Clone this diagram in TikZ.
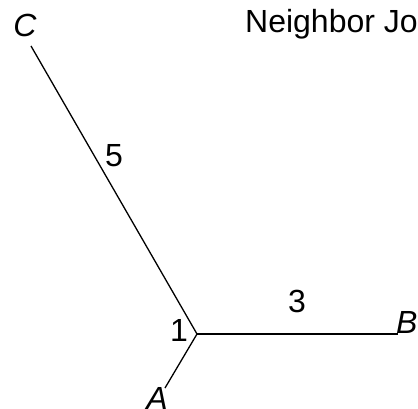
\documentclass[tikz,border=0pt]{standalone}
\usepackage{fontspec}
\setmainfont{Liberation Sans}
\begin{document}
\begin{tikzpicture}[x=1pt,y=-1pt,
  edge/.style={line width=1.3pt,black},
  lbl/.style={font=\fontsize{32}{34}\selectfont,inner sep=0pt},
  leaf/.style={font=\fontsize{32}{34}\selectfont\itshape,inner sep=0pt}]
\useasboundingbox (0,0) rectangle (418,409);
\clip (0,0) rectangle (418,409);
\coordinate (X) at (197,334);
\coordinate (Cend) at (31,46);
\coordinate (Bend) at (398,334);
\coordinate (Aend) at (165,388);
\draw[edge] (X) -- (Cend);
\draw[edge] (X) -- (Bend);
\draw[edge] (X) -- (Aend);
\node[leaf] (C) at (25,25) {C};
\node[leaf,anchor=base west] (B) at (396,333) {B};
\node[leaf,anchor=north] (A) at (157,387) {A};
\node[lbl] (l1) at (179,330) {1};
\node[lbl] (l3) at (297,301) {3};
\node[lbl] (l5) at (114,156) {5};
\node[lbl,anchor=base west] (title) at (245,33) {Neighbor Jo};
\end{tikzpicture}
\end{document}
